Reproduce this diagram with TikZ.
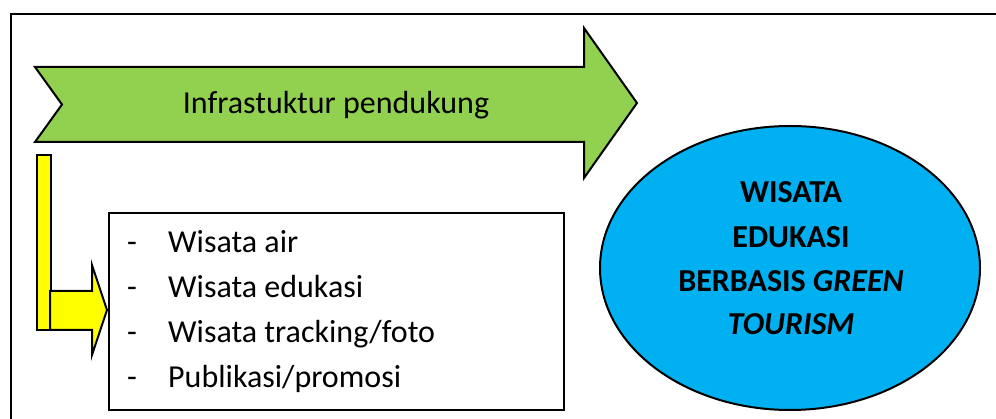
\documentclass[tikz,border=0pt]{standalone}
\usepackage{fontspec}
\setmainfont{Carlito}
\definecolor{arrowgreen}{HTML}{92D050}
\definecolor{arrowyellow}{HTML}{FFFF00}
\definecolor{goalblue}{HTML}{00B0F0}
\tikzset{
  outline/.style={draw=black, line width=2pt, line join=miter},
  bodytext/.style={font=\fontsize{32}{44}\selectfont, inner sep=0pt},
  goaltext/.style={font=\fontsize{32}{44}\selectfont\bfseries, align=center, inner sep=0pt},
}
\begin{document}
\begin{tikzpicture}[x=1pt, y=-1pt]
  \useasboundingbox (0,0) rectangle (996,419);
  % outer frame (only top and left edges fall inside the page)
  \draw[line width=2pt] (11,425) -- (11,14) -- (1000,14);

  % green notched arrow
  \path[outline, fill=arrowgreen]
    (35,67) -- (584,67) -- (584,28) -- (637,103) -- (584,178) -- (584,142)
    -- (35,142) -- (62,104.5) -- cycle;
  \node[bodytext, anchor=base] (infra) at (336,114) {Infrastuktur pendukung};

  % yellow bent arrow: vertical bar and horizontal head
  \path[outline, fill=arrowyellow] (37,155) rectangle (51,330);
  \path[outline, fill=arrowyellow]
    (50,291) -- (92,291) -- (92,265) -- (107,310) -- (92,355) -- (92,330)
    -- (50,330) -- cycle;

  % list box
  \node[outline, fill=white, minimum width=455pt, minimum height=197pt, anchor=north west, inner sep=0pt]
    (list) at (108,212) {};
  \foreach \i in {0,1,2,3} {
    \node[bodytext, anchor=base] (dash\i) at (132,253+45*\i) {-};
  }
  \node[bodytext, anchor=base west] (item0) at (168,253) {Wisata air};
  \node[bodytext, anchor=base west] (item1) at (168,298) {Wisata edukasi};
  \node[bodytext, anchor=base west] (item2) at (168,343) {Wisata tracking/foto};
  \node[bodytext, anchor=base west] (item3) at (168,388) {Publikasi/promosi};

  % goal ellipse
  \path[outline, fill=goalblue] (790,268) ellipse [x radius=190, y radius=142];
  \node[goaltext, anchor=base] (g1) at (791,203) {WISATA};
  \node[goaltext, anchor=base] (g2) at (791,248) {EDUKASI};
  \node[goaltext, anchor=base] (g3) at (791,292) {BERBASIS \textit{GREEN}};
  \node[goaltext, anchor=base] (g4) at (791,335) {\textit{TOURISM}};
\end{tikzpicture}
\end{document}
